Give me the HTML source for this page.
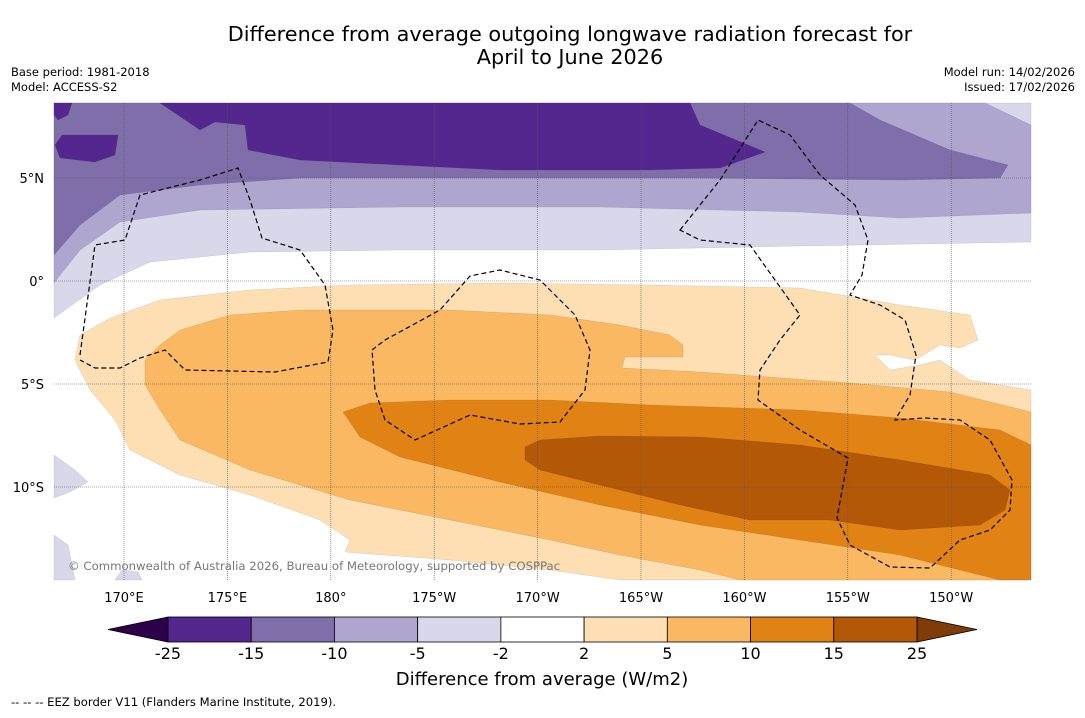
<!DOCTYPE html>
<html><head><meta charset="utf-8">
<style>
body{margin:0;background:#fff;font-family:"Liberation Sans","DejaVu Sans",sans-serif;}
svg text{font-family:"DejaVu Sans","Liberation Sans",sans-serif;}
</style></head>
<body>
<svg id="chart" width="1085" height="713" viewBox="0 0 1085 713" xmlns="http://www.w3.org/2000/svg">
<rect width="1085" height="713" fill="#fff"/>
<text x="570" y="41" font-size="20.8" text-anchor="middle">Difference from average outgoing longwave radiation forecast for</text>
<text x="570" y="64" font-size="20.8" text-anchor="middle">April to June 2026</text>
<text x="11" y="76" font-size="11.5">Base period: 1981-2018</text>
<text x="11" y="91" font-size="11.5">Model: ACCESS-S2</text>
<text x="1075" y="76" font-size="11.5" text-anchor="end">Model run: 14/02/2026</text>
<text x="1075" y="91" font-size="11.5" text-anchor="end">Issued: 17/02/2026</text>
<g id="map"></g>
<g id="cbar"></g>
<text x="542" y="685" font-size="18" text-anchor="middle">Difference from average (W/m2)</text>
<text x="11" y="706" font-size="11.6">-- -- -- EEZ border V11 (Flanders Marine Institute, 2019).</text>
</svg>
<script>
const NS="http://www.w3.org/2000/svg";
// colorbar data
const levels=[-25,-15,-10,-5,-2,2,5,10,15,25];
const bandColors=["#54278f","#7f6ea9","#aea6cf","#d8d8ea","#ffffff","#fddfb3","#fbb863","#e08214","#b35806"];
const underColor="#2d004b", overColor="#7f3b08";
// axis tick data
const lonTicks=[170,175,180,185,190,195,200,205,210];
const lonLabels=["170°E","175°E","180°","175°W","170°W","165°W","160°W","155°W","150°W"];
const latTicks=[5,0,-5,-10];
const latLabels=["5°N","0°","5°S","10°S"];

const X0=54,X1=1031,Y0=103,Y1=580;
const xLon=lon=>124+(lon-170)*20.68;
const yLat=lat=>281-lat*20.6;
function mk(tag,attrs,parent){const e=document.createElementNS(NS,tag);for(const k in attrs)e.setAttribute(k,attrs[k]);parent.appendChild(e);return e;}
const map=document.getElementById('map');
const cbar=document.getElementById('cbar');

// map field shapes (pixel outlines of contour regions)
const shapes=[
 ["#d8d8ea","M54,103 L1031,103 L1031,242 L800,246 L600,250 L400,250 L250,252 L150,262 L100,285 L54,318Z"],
 ["#aea6cf","M54,103 L985,103 L1031,125 L1031,213 L900,218 L800,212 L600,207 L400,207 L200,210 L120,222 L80,250 L54,283Z"],
 ["#7f6ea9","M54,103 L850,103 L880,120 L950,150 L1008,165 L1000,178 L900,180 L700,178 L500,178 L300,178 L200,185 L120,195 L80,225 L54,255Z"],
 ["#54278f","M160,103 L690,103 L700,125 L765,152 L720,168 L650,170 L500,170 L400,165 L300,160 L248,150 L245,125 L215,122 L200,130 Z"],
 ["#54278f","M62,135 L118,135 L115,155 L95,162 L60,158 L55,145Z"],
 ["#54278f","M54,103 L72,103 L68,115 L58,120 L54,115Z"],
 ["#d8d8ea","M54,455 L75,470 L88,482 L70,492 L54,498Z"],
 ["#d8d8ea","M54,535 L68,545 L75,580 L54,580Z"],
 ["#d8d8ea","M115,580 L122,570 L138,572 L142,580Z"],
 ["#fddfb3","M75,360 L80,335 L110,318 L160,300 L250,290 L350,285 L500,283 L650,285 L800,288 L900,305 L970,315 L978,340 L960,348 L940,345 L915,360 L890,355 L875,355 L890,370 L920,365 L940,360 L970,380 L1031,390 L1031,580 L620,580 L550,570 L450,560 L345,552 L350,540 L320,520 L250,495 L180,475 L130,450 L115,420 L90,390Z"],
 ["#fbb863","M145,360 L160,345 L180,330 L230,315 L300,310 L450,310 L550,315 L620,325 L670,335 L683,345 L683,357 L625,357 L622,368 L700,372 L850,383 L950,392 L1031,412 L1031,580 L740,580 L700,570 L620,555 L550,540 L450,520 L350,500 L250,470 L180,440 L160,410 L145,385Z"],
 ["#e08214","M343,412 L370,403 L450,400 L550,400 L650,405 L800,410 L900,418 L1000,430 L1031,445 L1031,580 L1000,580 L900,555 L800,540 L700,525 L600,505 L500,482 L400,457 L360,437Z"],
 ["#b35806","M525,447 L540,440 L600,436 L700,437 L800,445 L900,460 L990,475 L1010,490 L1005,510 L980,525 L900,530 L830,520 L750,520 L680,505 L600,485 L540,470 L525,460Z"]
];
shapes.forEach((s,i)=>{
 const p=mk('path',{d:s[1],fill:s[0],stroke:'rgba(0,0,0,0.15)','stroke-width':0.5},map);
 
 
});
// gridlines
lonTicks.forEach((lon,i)=>{
 const x=xLon(lon);
 const l=mk('line',{x1:x,x2:x,y1:Y0,y2:Y1,stroke:'#555','stroke-width':0.6,'stroke-dasharray':'1,1'},map);
 
 
 const t=mk('text',{x:x,y:602,'font-size':13,'text-anchor':'middle'},map);
 t.textContent=lonLabels[i];
 
 
});
latTicks.forEach((lat,i)=>{
 const y=yLat(lat);
 const l=mk('line',{x1:X0,x2:X1,y1:y,y2:y,stroke:'#555','stroke-width':0.6,'stroke-dasharray':'1,1'},map);
 
 
 const t=mk('text',{x:44,y:y+5,'font-size':13,'text-anchor':'end'},map);
 t.textContent=latLabels[i];
 
 
});
// EEZ borders
const eez=[
 "M80,355 L95,245 L125,240 L140,195 L200,180 L238,168 L250,200 L262,238 L300,250 L325,285 L333,330 L328,362 L275,372 L185,370 L165,350 L140,358 L120,368 L95,368 L80,360",
 "M372,350 L385,340 L440,310 L470,276 L500,270 L540,280 L575,315 L590,350 L585,390 L560,422 L520,424 L470,415 L415,440 L385,420 L375,390 Z",
 "M680,230 L720,180 L758,120 L790,135 L820,175 L855,205 L868,240 L862,275 L850,295 L880,305 L905,320 L916,355 L910,395 L895,420 L925,418 L960,420 L990,440 L1012,480 L1010,510 L990,530 L960,540 L930,568 L890,567 L850,545 L837,518 L848,458 L800,430 L758,400 L760,370 L780,340 L800,315 L775,280 L750,245 L700,240 Z"
];
eez.forEach(d=>{
 const p=mk('path',{d:d,fill:'none',stroke:'#000','stroke-width':1.2,'stroke-dasharray':'5,3'},map);
 
 
});
const cr=mk('text',{x:68,y:570,'font-size':11.7,fill:'#777'},map);
cr.textContent="© Commonwealth of Australia 2026, Bureau of Meteorology, supported by COSPPac";



// colorbar
const CB0=168,CB1=917,CY0=617,CY1=642;
const cx=i=>CB0+(CB1-CB0)*i/(levels.length-1);
const tl=mk('polygon',{points:`${CB0},${CY0} 108,${(CY0+CY1)/2} ${CB0},${CY1}`,fill:underColor,stroke:'#000','stroke-width':0.8},cbar);


const tr=mk('polygon',{points:`${CB1},${CY0} 977,${(CY0+CY1)/2} ${CB1},${CY1}`,fill:overColor,stroke:'#000','stroke-width':0.8},cbar);


bandColors.forEach((c,i)=>{
 const r=mk('rect',{x:cx(i),y:CY0,width:cx(i+1)-cx(i),height:CY1-CY0,fill:c,stroke:'#000','stroke-width':0.8},cbar);
 
 
});
levels.forEach((v,i)=>{
 const t=mk('text',{x:cx(i),y:659,'font-size':16,'text-anchor':'middle'},cbar);
 t.textContent=String(v);
 
 
});
</script>
</body></html>
